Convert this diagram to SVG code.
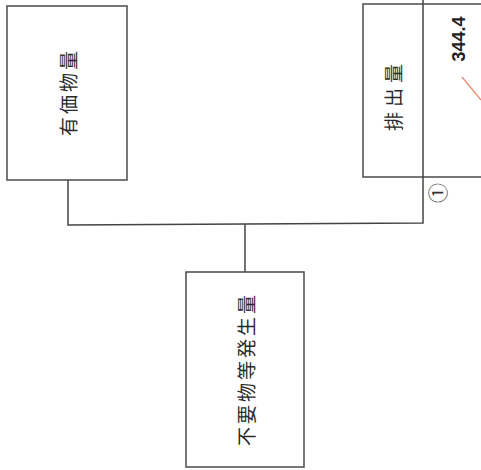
<svg xmlns="http://www.w3.org/2000/svg" width="481" height="470" viewBox="0 0 481 470">
<style>
.box{fill:#fff;stroke:#555;stroke-width:1.6}
.lbl{font-family:"Noto Sans CJK JP",sans-serif;font-size:19px;fill:#2a2a2a;text-anchor:middle;dominant-baseline:central;font-weight:400}
.conn{fill:none;stroke:#444;stroke-width:1.5}
</style>
<rect width="481" height="470" fill="#fff"/>
<g id="node-yukabutsu">
<rect class="box" x="7" y="6" width="120" height="174"/>
<text class="lbl" transform="translate(67,92) rotate(-90)" letter-spacing="3">有価物量</text>
</g>
<g id="node-haishutsu">
<rect class="box" x="363" y="4" width="130" height="173"/>
<text class="lbl" transform="translate(392,95) rotate(-90)" letter-spacing="5">排出量</text>
<text transform="translate(459,39) rotate(-90)" font-family="Liberation Sans, Arial, sans-serif" font-size="18" font-weight="bold" fill="#222" text-anchor="middle" dominant-baseline="central">344.4</text>
<line x1="462" y1="77" x2="481" y2="100" stroke="#e8886a" stroke-width="1.2"/>
</g>
<g id="node-fuyoubutsu">
<rect class="box" x="186" y="272" width="118" height="195"/>
<text class="lbl" transform="translate(245,369) rotate(-90)" letter-spacing="3">不要物等発生量</text>
</g>
<g id="connectors">
<polyline class="conn" points="68,180 68,225 423,223 423,0"/>
<line class="conn" x1="245" y1="224" x2="245" y2="272"/>
<text transform="translate(437,193) rotate(-90)" font-family="Noto Sans CJK JP, sans-serif" font-size="20" fill="#333" text-anchor="middle" dominant-baseline="central">①</text>
</g>
</svg>
